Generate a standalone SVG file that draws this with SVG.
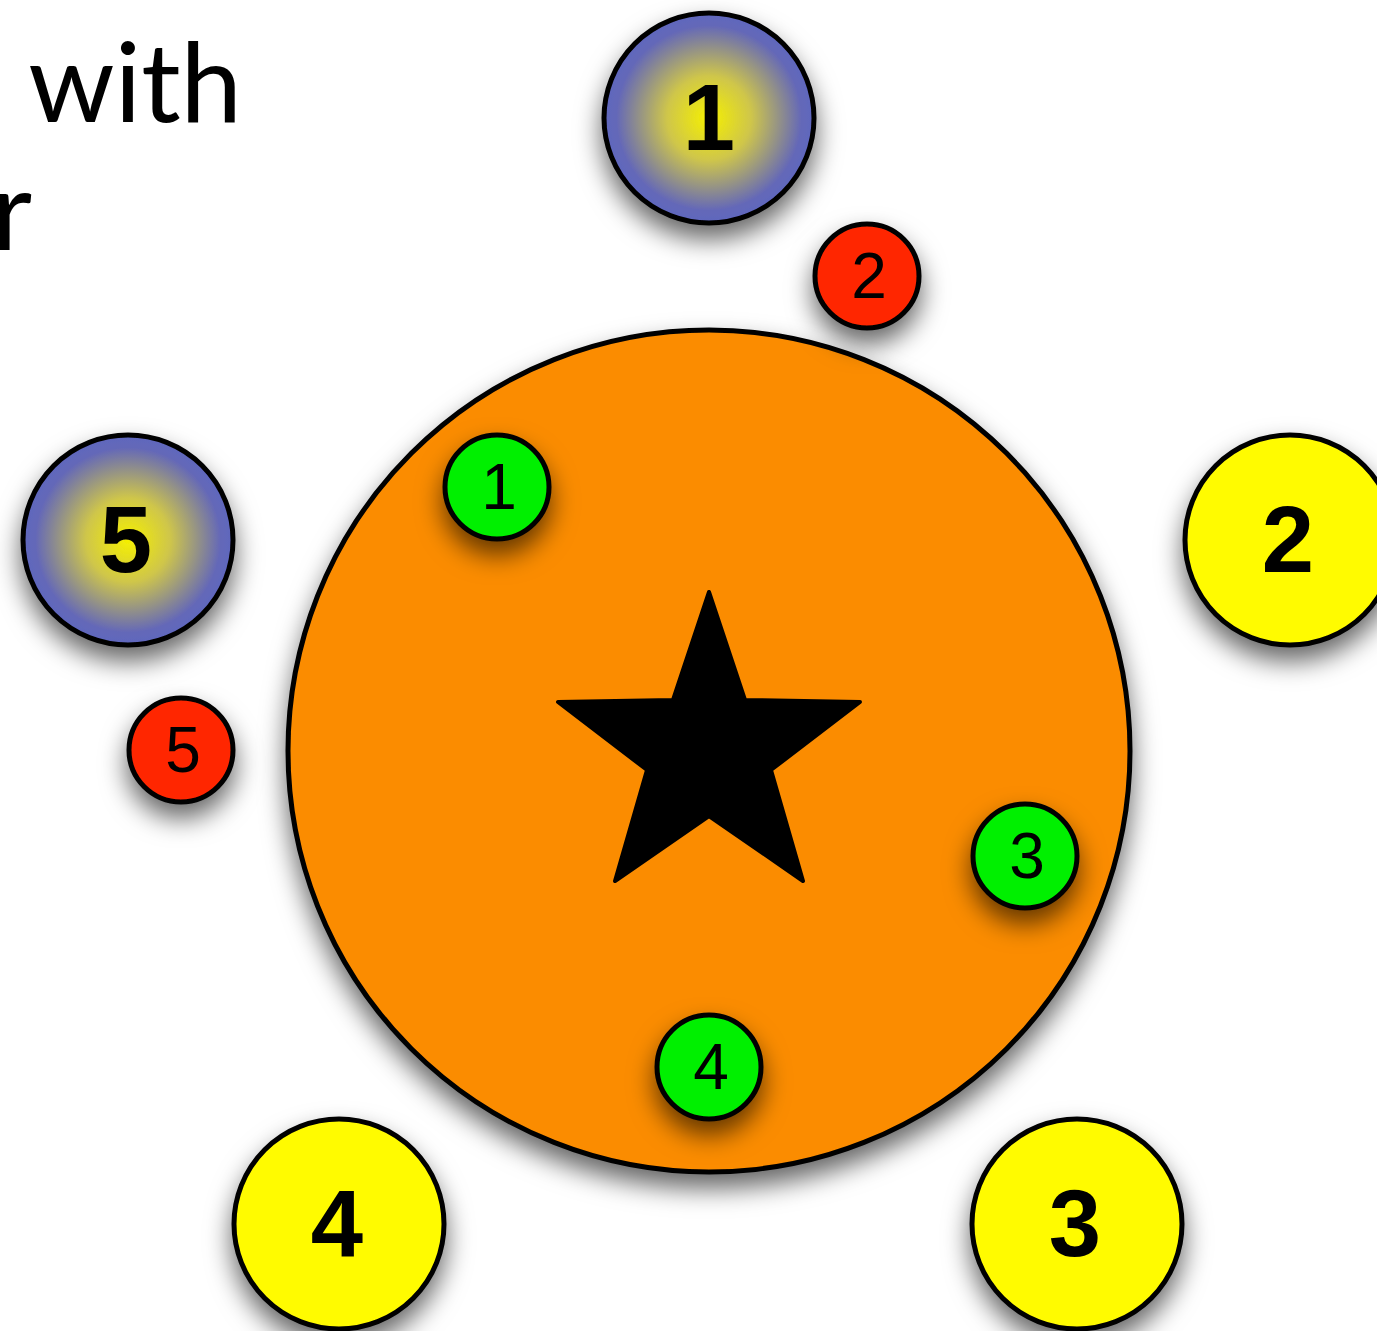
<svg xmlns="http://www.w3.org/2000/svg" width="1377" height="1331" viewBox="0 0 1377 1331">
<defs>
<filter id="sh" x="-50%" y="-50%" width="200%" height="200%">
<feDropShadow dx="0" dy="14" stdDeviation="13" flood-color="#000" flood-opacity="0.6"/>
</filter>
<radialGradient id="rg" cx="50%" cy="50%" r="50%">
<stop offset="0" stop-color="#f5f000"/>
<stop offset="0.4" stop-color="#cfc64a"/>
<stop offset="0.88" stop-color="#6468b8"/>
<stop offset="1" stop-color="#5f66be"/>
</radialGradient>
</defs>
<style>
.c{stroke:#000;stroke-width:5}
.big{font-family:"Liberation Sans",Arial,sans-serif;font-weight:bold;font-size:94px;text-anchor:middle}
.sm{font-family:"Liberation Sans",Arial,sans-serif;font-size:64px;text-anchor:middle}
.title{font-family:Lato,"Open Sans",sans-serif;font-size:110px}
</style>
<rect width="1377" height="1331" fill="#fff"/>
<g id="title">
<text class="title" x="242" y="122" text-anchor="end">o with</text>
<text class="title" x="-8" y="250">r</text>
</g>
<g id="table">
<circle class="c" cx="709" cy="751" r="421" fill="#fb8c00" filter="url(#sh)"/>
<path d="M709,592 L745,700 L860,702 L771,770 L803,881 L709,816 L615,881 L647,770 L558,702 L673,700 Z" fill="#000" stroke="#000" stroke-width="4" stroke-linejoin="round"/>
</g>
<g id="b1"><circle class="c" cx="709" cy="118" r="105" fill="url(#rg)" filter="url(#sh)"/><text class="big" x="709" y="150">1</text></g>
<g id="b5"><circle class="c" cx="128" cy="540" r="105" fill="url(#rg)" filter="url(#sh)"/><text class="big" x="126" y="572">5</text></g>
<g id="y2"><circle class="c" cx="1290" cy="540" r="105" fill="#fffb00" filter="url(#sh)"/><text class="big" x="1288" y="572">2</text></g>
<g id="y3"><circle class="c" cx="1077" cy="1224" r="105" fill="#fffb00" filter="url(#sh)"/><text class="big" x="1075" y="1256">3</text></g>
<g id="y4"><circle class="c" cx="339" cy="1224" r="105" fill="#fffb00" filter="url(#sh)"/><text class="big" x="337" y="1256">4</text></g>
<g id="r2"><circle class="c" cx="867" cy="276" r="52" fill="#ff2600" filter="url(#sh)"/><text class="sm" x="869" y="298">2</text></g>
<g id="r5"><circle class="c" cx="181" cy="750" r="52" fill="#ff2600" filter="url(#sh)"/><text class="sm" x="183" y="772">5</text></g>
<g id="g1"><circle class="c" cx="497" cy="487" r="52" fill="#00f000" filter="url(#sh)"/><text class="sm" x="499" y="509">1</text></g>
<g id="g3"><circle class="c" cx="1025" cy="856" r="52" fill="#00f000" filter="url(#sh)"/><text class="sm" x="1027" y="878">3</text></g>
<g id="g4"><circle class="c" cx="709" cy="1067" r="52" fill="#00f000" filter="url(#sh)"/><text class="sm" x="711" y="1089">4</text></g>
<g id="connectors"/>
</svg>
